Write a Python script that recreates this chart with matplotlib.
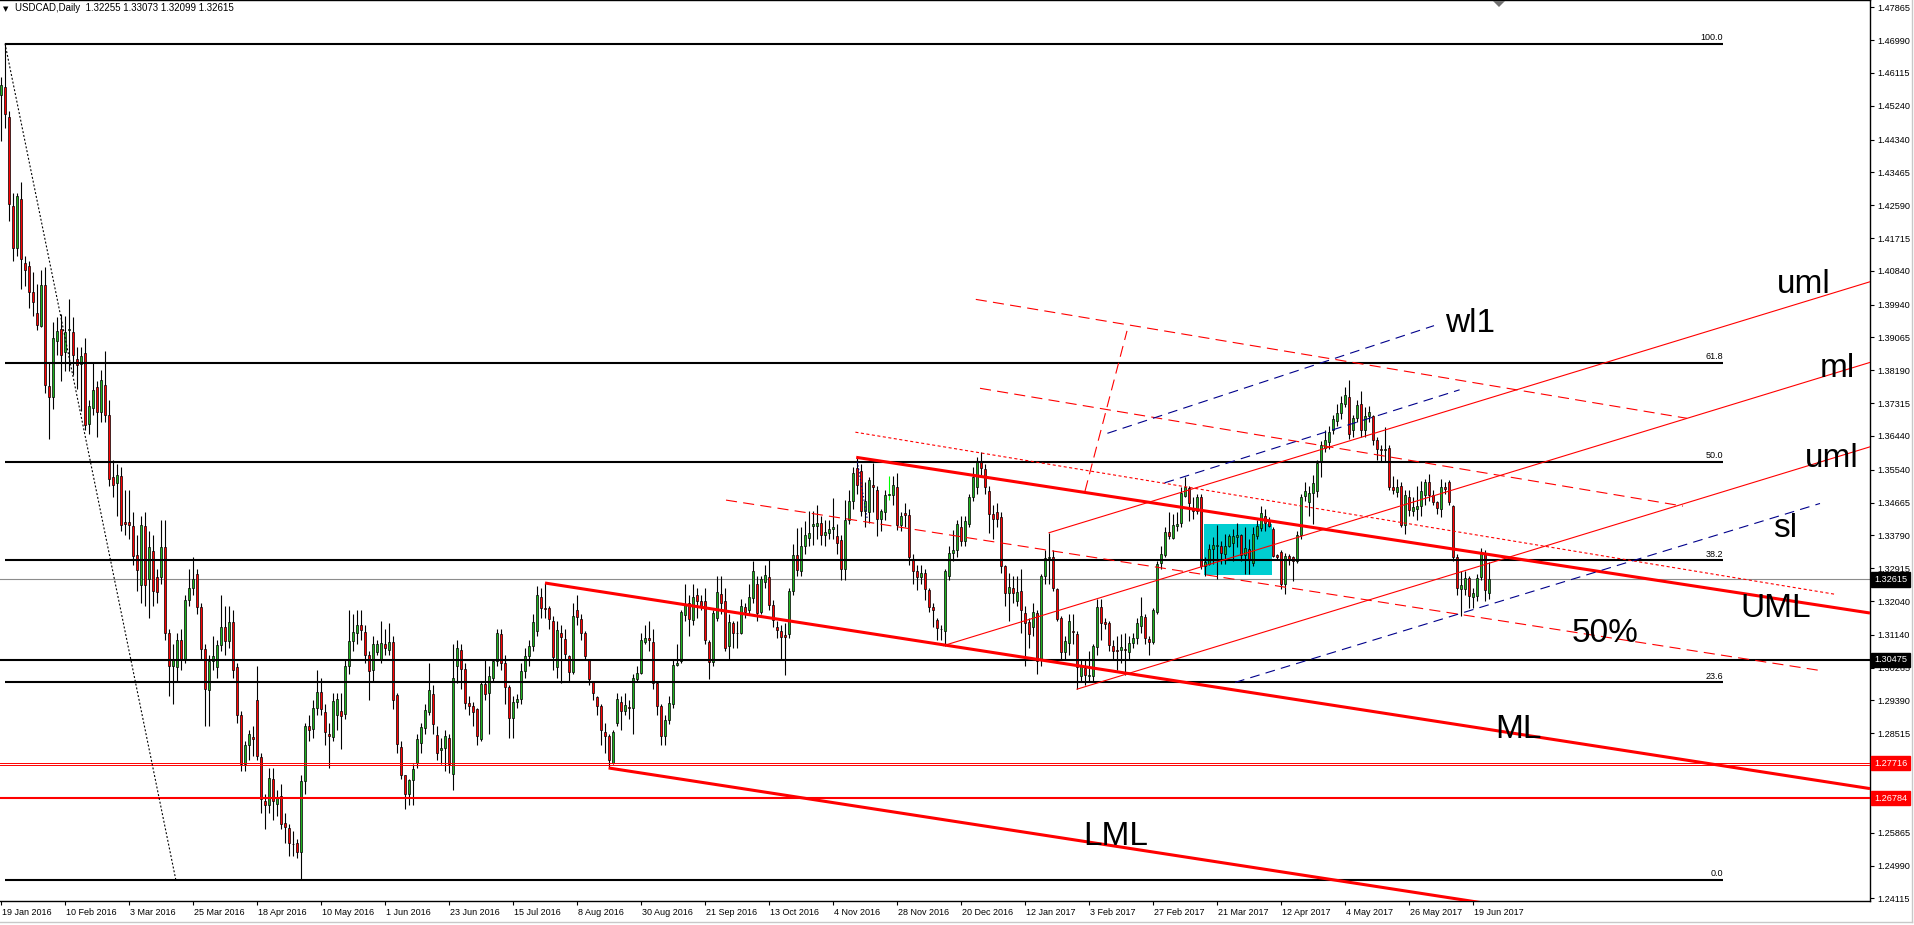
import numpy as np
import matplotlib
matplotlib.use('Agg')
import matplotlib.pyplot as plt
from matplotlib.transforms import blended_transform_factory, ScaledTranslation
from matplotlib.patches import Rectangle, Polygon

plt.rcParams['font.family'] = ['Liberation Sans', 'DejaVu Sans']
plt.rcParams['lines.scale_dashes'] = False

# daily USDCAD candles, 19 Jan 2016 .. 23 Jun 2017
opens = [
    1.4553, 1.4575, 1.4494, 1.4257, 1.4145, 1.4276, 1.4104, 1.4097, 1.4029, 1.3973,
    1.3938, 1.4046, 1.3778, 1.3749, 1.3898, 1.3930, 1.3869, 1.3927, 1.3920, 1.3850,
    1.3835, 1.3866, 1.3675, 1.3719, 1.3774, 1.3708, 1.3781, 1.3701, 1.3534, 1.3519,
    1.3538, 1.3414, 1.3414, 1.3403, 1.3327, 1.3247, 1.3403, 1.3264, 1.3337, 1.3267,
    1.3267, 1.3347, 1.3119, 1.3030, 1.3027, 1.3101, 1.3049, 1.3206, 1.3240, 1.3276,
    1.3189, 1.3075, 1.2966, 1.3043, 1.3029, 1.3087, 1.3136, 1.3097, 1.3148, 1.3027,
    1.2900, 1.2769, 1.2820, 1.2842, 1.2941, 1.2788, 1.2672, 1.2660, 1.2730, 1.2664,
    1.2685, 1.2612, 1.2598, 1.2556, 1.2558, 1.2536, 1.2725, 1.2871, 1.2864, 1.2919,
    1.2962, 1.2908, 1.2850, 1.2842, 1.2900, 1.2912, 1.2903, 1.3031, 1.3097, 1.3119,
    1.3141, 1.3122, 1.3061, 1.3020, 1.3068, 1.3049, 1.3090, 1.3074, 1.3096, 1.2953,
    1.2815, 1.2739, 1.2690, 1.2726, 1.2772, 1.2826, 1.2866, 1.2907, 1.2957, 1.2846,
    1.2806, 1.2812, 1.2840, 1.2744, 1.3032, 1.3074, 1.3024, 1.2933, 1.2924, 1.2916,
    1.2837, 1.2984, 1.2959, 1.2998, 1.3043, 1.3116, 1.3040, 1.2976, 1.2891, 1.2935,
    1.2944, 1.3018, 1.3058, 1.3083, 1.3124, 1.3214, 1.3186, 1.3185, 1.3151, 1.3029,
    1.3118, 1.3103, 1.3057, 1.3015, 1.3180, 1.3156, 1.3118, 1.3048, 1.2989, 1.2949,
    1.2924, 1.2855, 1.2844, 1.2772, 1.2880, 1.2935, 1.2911, 1.2922, 1.2919, 1.2995,
    1.3013, 1.3094, 1.3106, 1.3096, 1.2985, 1.2925, 1.2844, 1.2886, 1.2930, 1.3033,
    1.3044, 1.3167, 1.3198, 1.3154, 1.3221, 1.3205, 1.3203, 1.3094, 1.3042, 1.3160,
    1.3222, 1.3203, 1.3083, 1.3146, 1.3119, 1.3120, 1.3188, 1.3180, 1.3212, 1.3250,
    1.3176, 1.3256, 1.3268, 1.3194, 1.3136, 1.3125, 1.3114, 1.3117, 1.3231, 1.3327,
    1.3285, 1.3351, 1.3371, 1.3404, 1.3404, 1.3412, 1.3381, 1.3385, 1.3396, 1.3376,
    1.3367, 1.3289, 1.3420, 1.3471, 1.3558, 1.3551, 1.3445, 1.3442, 1.3513, 1.3500,
    1.3422, 1.3441, 1.3486, 1.3487, 1.3509, 1.3407, 1.3438, 1.3433, 1.3315, 1.3284,
    1.3269, 1.3278, 1.3234, 1.3187, 1.3154, 1.3130, 1.3123, 1.3272, 1.3331, 1.3340,
    1.3402, 1.3365, 1.3409, 1.3481, 1.3507, 1.3578, 1.3555, 1.3498, 1.3435, 1.3440,
    1.3427, 1.3298, 1.3225, 1.3238, 1.3205, 1.3231, 1.3173, 1.3147, 1.3136, 1.3173,
    1.3046, 1.3271, 1.3318, 1.3320, 1.3235, 1.3158, 1.3067, 1.3092, 1.3124, 1.3117,
    1.3005, 1.3025, 1.3004, 1.3005, 1.3081, 1.3188, 1.3149, 1.3145, 1.3085, 1.3073,
    1.3074, 1.3075, 1.3067, 1.3092, 1.3105, 1.3138, 1.3161, 1.3103, 1.3096, 1.3176,
    1.3305, 1.3327, 1.3389, 1.3373, 1.3403, 1.3411, 1.3485, 1.3505, 1.3452, 1.3443,
    1.3482, 1.3298, 1.3302, 1.3342, 1.3350, 1.3351, 1.3329, 1.3351, 1.3358, 1.3375,
    1.3379, 1.3327, 1.3342, 1.3305, 1.3378, 1.3398, 1.3431, 1.3416, 1.3396, 1.3326,
    1.3334, 1.3249, 1.3324, 1.3320, 1.3311, 1.3380, 1.3483, 1.3467, 1.3492, 1.3496,
    1.3575, 1.3612, 1.3627, 1.3661, 1.3684, 1.3706, 1.3730, 1.3749, 1.3659, 1.3692,
    1.3730, 1.3659, 1.3696, 1.3696, 1.3632, 1.3609, 1.3606, 1.3611, 1.3509, 1.3494,
    1.3511, 1.3407, 1.3482, 1.3445, 1.3449, 1.3456, 1.3486, 1.3521, 1.3487, 1.3469,
    1.3450, 1.3509, 1.3521, 1.3456, 1.3320, 1.3237, 1.3236, 1.3266, 1.3214, 1.3218,
    1.3269, 1.3331, 1.32255,
]
highs = [
    1.4600, 1.4690, 1.4510, 1.4291, 1.4291, 1.4320, 1.4124, 1.4110, 1.4080, 1.4050,
    1.4087, 1.4095, 1.3840, 1.3949, 1.3960, 1.3970, 1.3965, 1.4010, 1.3960, 1.3880,
    1.3880, 1.3905, 1.3740, 1.3842, 1.3790, 1.3820, 1.3870, 1.3740, 1.3580, 1.3570,
    1.3560, 1.3500, 1.3500, 1.3440, 1.3380, 1.3430, 1.3440, 1.3390, 1.3380, 1.3290,
    1.3420, 1.3420, 1.3130, 1.3090, 1.3120, 1.3130, 1.3220, 1.3290, 1.3320, 1.3290,
    1.3200, 1.3090, 1.3060, 1.3110, 1.3100, 1.3220, 1.3190, 1.3190, 1.3180, 1.3040,
    1.2910, 1.2830, 1.2860, 1.2870, 1.3030, 1.2800, 1.2690, 1.2760, 1.2760, 1.2700,
    1.2715, 1.2640, 1.2610, 1.2590, 1.2570, 1.2740, 1.2880, 1.2900, 1.2940, 1.3020,
    1.3000, 1.2930, 1.2880, 1.2960, 1.2960, 1.2960, 1.3050, 1.3180, 1.3170, 1.3180,
    1.3180, 1.3140, 1.3070, 1.3110, 1.3100, 1.3150, 1.3130, 1.3145, 1.3110, 1.2960,
    1.2830, 1.2740, 1.2730, 1.2770, 1.2850, 1.2880, 1.2930, 1.3040, 1.2980, 1.2870,
    1.2840, 1.2860, 1.2850, 1.3090, 1.3100, 1.3090, 1.3040, 1.2950, 1.2935, 1.2920,
    1.2990, 1.3050, 1.3030, 1.3050, 1.3130, 1.3130, 1.3060, 1.2980, 1.2950, 1.2955,
    1.3040, 1.3080, 1.3100, 1.3170, 1.3245, 1.3240, 1.3252, 1.3190, 1.3165, 1.3150,
    1.3140, 1.3130, 1.3060, 1.3200, 1.3220, 1.3170, 1.3125, 1.3050, 1.2990, 1.2950,
    1.2930, 1.2880, 1.2850, 1.2860, 1.2960, 1.2950, 1.2960, 1.2940, 1.3010, 1.3030,
    1.3120, 1.3140, 1.3150, 1.3130, 1.2990, 1.2930, 1.2900, 1.2950, 1.3050, 1.3090,
    1.3180, 1.3250, 1.3220, 1.3250, 1.3240, 1.3220, 1.3240, 1.3100, 1.3180, 1.3270,
    1.3270, 1.3240, 1.3170, 1.3150, 1.3150, 1.3210, 1.3200, 1.3250, 1.3310, 1.3270,
    1.3270, 1.3300, 1.3312, 1.3207, 1.3150, 1.3140, 1.3145, 1.3240, 1.3355, 1.3398,
    1.3400, 1.3416, 1.3443, 1.3443, 1.3460, 1.3430, 1.3420, 1.3420, 1.3478, 1.3410,
    1.3380, 1.3473, 1.3500, 1.3560, 1.3587, 1.3570, 1.3520, 1.3535, 1.3571, 1.3510,
    1.3450, 1.3500, 1.3536, 1.3536, 1.3545, 1.3440, 1.3464, 1.3450, 1.3330, 1.3300,
    1.3300, 1.3290, 1.3240, 1.3200, 1.3160, 1.3140, 1.3290, 1.3350, 1.3394, 1.3420,
    1.3430, 1.3430, 1.3490, 1.3560, 1.3589, 1.3600, 1.3570, 1.3510, 1.3460, 1.3464,
    1.3440, 1.3300, 1.3280, 1.3270, 1.3270, 1.3290, 1.3190, 1.3160, 1.3200, 1.3180,
    1.3275, 1.3340, 1.3386, 1.3340, 1.3240, 1.3165, 1.3110, 1.3170, 1.3170, 1.3125,
    1.3050, 1.3050, 1.3070, 1.3090, 1.3210, 1.3210, 1.3160, 1.3150, 1.3100, 1.3110,
    1.3115, 1.3120, 1.3110, 1.3120, 1.3160, 1.3215, 1.3170, 1.3110, 1.3185, 1.3310,
    1.3350, 1.3400, 1.3440, 1.3436, 1.3440, 1.3507, 1.3534, 1.3510, 1.3480, 1.3490,
    1.3490, 1.3320, 1.3356, 1.3374, 1.3407, 1.3365, 1.3382, 1.3382, 1.3396, 1.3411,
    1.3383, 1.3400, 1.3369, 1.3400, 1.3420, 1.3457, 1.3449, 1.3427, 1.3400, 1.3330,
    1.3340, 1.3333, 1.3330, 1.3325, 1.3390, 1.3490, 1.3520, 1.3510, 1.3540, 1.3580,
    1.3630, 1.3660, 1.3670, 1.3700, 1.3730, 1.3750, 1.3774, 1.3792, 1.3700, 1.3740,
    1.3765, 1.3720, 1.3725, 1.3700, 1.3640, 1.3620, 1.3667, 1.3620, 1.3537, 1.3530,
    1.3520, 1.3500, 1.3500, 1.3480, 1.3510, 1.3525, 1.3530, 1.3543, 1.3500, 1.3470,
    1.3530, 1.3520, 1.3527, 1.3460, 1.3330, 1.3284, 1.3284, 1.3270, 1.3240, 1.3275,
    1.3346, 1.3340, 1.33073,
]
lows = [
    1.4429, 1.4465, 1.4218, 1.4109, 1.4124, 1.4036, 1.4044, 1.3985, 1.3963, 1.3927,
    1.3934, 1.3759, 1.3636, 1.3716, 1.3860, 1.3790, 1.3818, 1.3818, 1.3807, 1.3770,
    1.3710, 1.3660, 1.3650, 1.3700, 1.3640, 1.3680, 1.3680, 1.3510, 1.3480, 1.3430,
    1.3390, 1.3380, 1.3370, 1.3300, 1.3230, 1.3200, 1.3190, 1.3160, 1.3190, 1.3200,
    1.3250, 1.3100, 1.2950, 1.2930, 1.2990, 1.3020, 1.3040, 1.3190, 1.3220, 1.3170,
    1.3050, 1.2870, 1.2870, 1.3020, 1.3000, 1.3070, 1.3060, 1.3080, 1.3000, 1.2880,
    1.2750, 1.2750, 1.2780, 1.2790, 1.2780, 1.2640, 1.2595, 1.2640, 1.2620, 1.2630,
    1.2595, 1.2560, 1.2525, 1.2525, 1.2520, 1.2461, 1.2690, 1.2830, 1.2840, 1.2900,
    1.2900, 1.2820, 1.2760, 1.2830, 1.2860, 1.2810, 1.2890, 1.3010, 1.3070, 1.3090,
    1.3100, 1.3040, 1.2940, 1.2990, 1.3060, 1.3040, 1.3060, 1.3060, 1.2915, 1.2800,
    1.2730, 1.2650, 1.2660, 1.2660, 1.2760, 1.2800, 1.2850, 1.2900, 1.2850, 1.2780,
    1.2770, 1.2750, 1.2745, 1.2700, 1.2985, 1.2970, 1.2915, 1.2900, 1.2870, 1.2820,
    1.2830, 1.2940, 1.2850, 1.2990, 1.3030, 1.3020, 1.2930, 1.2840, 1.2840, 1.2920,
    1.2930, 1.3000, 1.3030, 1.3070, 1.3110, 1.3160, 1.3158, 1.3130, 1.3020, 1.3000,
    1.2985, 1.3050, 1.2990, 1.3010, 1.3140, 1.3100, 1.3050, 1.2980, 1.2940, 1.2900,
    1.2820, 1.2800, 1.2760, 1.2770, 1.2870, 1.2860, 1.2900, 1.2890, 1.2850, 1.2990,
    1.3010, 1.3090, 1.3070, 1.2970, 1.2900, 1.2820, 1.2820, 1.2875, 1.2920, 1.3030,
    1.3040, 1.3150, 1.3110, 1.3140, 1.3160, 1.3180, 1.3090, 1.2995, 1.3030, 1.3150,
    1.3170, 1.3070, 1.3050, 1.3080, 1.3080, 1.3115, 1.3160, 1.3170, 1.3200, 1.3150,
    1.3170, 1.3240, 1.3180, 1.3136, 1.3105, 1.3047, 1.3007, 1.3105, 1.3220, 1.3270,
    1.3270, 1.3330, 1.3350, 1.3353, 1.3370, 1.3353, 1.3350, 1.3370, 1.3370, 1.3330,
    1.3260, 1.3260, 1.3410, 1.3450, 1.3490, 1.3430, 1.3400, 1.3412, 1.3440, 1.3376,
    1.3390, 1.3420, 1.3474, 1.3460, 1.3393, 1.3390, 1.3400, 1.3300, 1.3250, 1.3233,
    1.3250, 1.3207, 1.3176, 1.3136, 1.3100, 1.3100, 1.3083, 1.3260, 1.3310, 1.3320,
    1.3350, 1.3350, 1.3400, 1.3470, 1.3490, 1.3540, 1.3490, 1.3385, 1.3370, 1.3400,
    1.3278, 1.3190, 1.3150, 1.3200, 1.3190, 1.3120, 1.3030, 1.3080, 1.3110, 1.3010,
    1.3030, 1.3250, 1.3250, 1.3230, 1.3150, 1.3047, 1.3047, 1.3060, 1.3090, 1.2969,
    1.2990, 1.2980, 1.2990, 1.2990, 1.3060, 1.3100, 1.3130, 1.3070, 1.3050, 1.3020,
    1.3040, 1.3008, 1.3050, 1.3080, 1.3090, 1.3120, 1.3090, 1.3060, 1.3090, 1.3170,
    1.3290, 1.3320, 1.3370, 1.3369, 1.3390, 1.3400, 1.3480, 1.3418, 1.3422, 1.3436,
    1.3289, 1.3271, 1.3300, 1.3302, 1.3262, 1.3302, 1.3302, 1.3347, 1.3311, 1.3347,
    1.3311, 1.3275, 1.3275, 1.3298, 1.3370, 1.3391, 1.3391, 1.3400, 1.3320, 1.3315,
    1.3236, 1.3222, 1.3300, 1.3258, 1.3305, 1.3370, 1.3470, 1.3431, 1.3408, 1.3480,
    1.3534, 1.3600, 1.3610, 1.3650, 1.3670, 1.3690, 1.3720, 1.3636, 1.3640, 1.3680,
    1.3640, 1.3640, 1.3680, 1.3620, 1.3580, 1.3578, 1.3574, 1.3500, 1.3489, 1.3480,
    1.3400, 1.3383, 1.3430, 1.3430, 1.3420, 1.3431, 1.3460, 1.3470, 1.3460, 1.3436,
    1.3427, 1.3490, 1.3460, 1.3310, 1.3220, 1.3164, 1.3220, 1.3186, 1.3186, 1.3204,
    1.3260, 1.3204, 1.32099,
]
closes = [
    1.4579, 1.4502, 1.4262, 1.4145, 1.4283, 1.4116, 1.4087, 1.4029, 1.4002, 1.3941,
    1.4046, 1.3781, 1.3749, 1.3905, 1.3924, 1.3861, 1.3922, 1.3930, 1.3861, 1.3832,
    1.3858, 1.3672, 1.3723, 1.3767, 1.3708, 1.3794, 1.3701, 1.3529, 1.3512, 1.3541,
    1.3406, 1.3410, 1.3406, 1.3323, 1.3286, 1.3407, 1.3247, 1.3349, 1.3231, 1.3228,
    1.3347, 1.3119, 1.3032, 1.3046, 1.3101, 1.3049, 1.3206, 1.3240, 1.3264, 1.3189,
    1.3075, 1.2970, 1.3043, 1.3058, 1.3087, 1.3136, 1.3097, 1.3148, 1.3020, 1.2900,
    1.2769, 1.2820, 1.2849, 1.2837, 1.2791, 1.2675, 1.2660, 1.2733, 1.2672, 1.2682,
    1.2609, 1.2602, 1.2558, 1.2555, 1.2536, 1.2723, 1.2871, 1.2860, 1.2919, 1.2962,
    1.2915, 1.2854, 1.2845, 1.2937, 1.2944, 1.2897, 1.3031, 1.3097, 1.3122, 1.3141,
    1.3126, 1.3061, 1.3017, 1.3090, 1.3090, 1.3093, 1.3078, 1.3096, 1.2941, 1.2822,
    1.2739, 1.2690, 1.2726, 1.2757, 1.2837, 1.2868, 1.2913, 1.2968, 1.2877, 1.2799,
    1.2813, 1.2844, 1.2770, 1.2998, 1.3078, 1.3024, 1.2933, 1.2925, 1.2909, 1.2843,
    1.2984, 1.2956, 1.3004, 1.3043, 1.3118, 1.3040, 1.2974, 1.2891, 1.2935, 1.2944,
    1.3018, 1.3058, 1.3085, 1.3147, 1.3221, 1.3185, 1.3184, 1.3155, 1.3056, 1.3127,
    1.3109, 1.3063, 1.3014, 1.3164, 1.3161, 1.3118, 1.3058, 1.2995, 1.2960, 1.2924,
    1.2861, 1.2843, 1.2779, 1.2855, 1.2942, 1.2911, 1.2926, 1.2919, 1.2999, 1.3011,
    1.3100, 1.3105, 1.3100, 1.2985, 1.2925, 1.2844, 1.2886, 1.2933, 1.3033, 1.3040,
    1.3174, 1.3196, 1.3155, 1.3214, 1.3205, 1.3191, 1.3099, 1.3042, 1.3172, 1.3228,
    1.3198, 1.3078, 1.3147, 1.3118, 1.3120, 1.3190, 1.3176, 1.3214, 1.3285, 1.3173,
    1.3262, 1.3274, 1.3194, 1.3154, 1.3127, 1.3109, 1.3109, 1.3231, 1.3327, 1.3287,
    1.3351, 1.3380, 1.3385, 1.3410, 1.3411, 1.3381, 1.3388, 1.3396, 1.3402, 1.3358,
    1.3289, 1.3420, 1.3471, 1.3546, 1.3513, 1.3445, 1.3470, 1.3527, 1.3509, 1.3422,
    1.3444, 1.3486, 1.3488, 1.3513, 1.3407, 1.3431, 1.3433, 1.3321, 1.3284, 1.3269,
    1.3278, 1.3235, 1.3189, 1.3180, 1.3132, 1.3129, 1.3284, 1.3331, 1.3340, 1.3409,
    1.3365, 1.3416, 1.3481, 1.3534, 1.3574, 1.3558, 1.3507, 1.3435, 1.3422, 1.3422,
    1.3298, 1.3225, 1.3241, 1.3225, 1.3229, 1.3180, 1.3145, 1.3116, 1.3174, 1.3043,
    1.3271, 1.3319, 1.3320, 1.3238, 1.3156, 1.3069, 1.3098, 1.3151, 1.3121, 1.3028,
    1.3030, 1.3008, 1.3008, 1.3085, 1.3188, 1.3145, 1.3142, 1.3087, 1.3072, 1.3071,
    1.3081, 1.3073, 1.3092, 1.3105, 1.3145, 1.3163, 1.3105, 1.3096, 1.3180, 1.3302,
    1.3329, 1.3389, 1.3376, 1.3407, 1.3409, 1.3491, 1.3509, 1.3464, 1.3443, 1.3482,
    1.3298, 1.3309, 1.3342, 1.3354, 1.3352, 1.3331, 1.3351, 1.3376, 1.3376, 1.3381,
    1.3327, 1.3344, 1.3314, 1.3382, 1.3403, 1.3438, 1.3412, 1.3403, 1.3323, 1.3320,
    1.3249, 1.3324, 1.3316, 1.3311, 1.3380, 1.3482, 1.3498, 1.3492, 1.3518, 1.3572,
    1.3621, 1.3634, 1.3654, 1.3688, 1.3706, 1.3732, 1.3752, 1.3648, 1.3692, 1.3726,
    1.3659, 1.3696, 1.3709, 1.3632, 1.3610, 1.3606, 1.3608, 1.3507, 1.3500, 1.3509,
    1.3407, 1.3487, 1.3447, 1.3455, 1.3458, 1.3498, 1.3521, 1.3486, 1.3469, 1.3452,
    1.3509, 1.3503, 1.3467, 1.3320, 1.3240, 1.3246, 1.3265, 1.3218, 1.3225, 1.3265,
    1.3331, 1.3233, 1.32615,
]

date_labels = ['19 Jan 2016', '10 Feb 2016', '3 Mar 2016', '25 Mar 2016', '18 Apr 2016',
               '10 May 2016', '1 Jun 2016', '23 Jun 2016', '15 Jul 2016', '8 Aug 2016',
               '30 Aug 2016', '21 Sep 2016', '13 Oct 2016', '4 Nov 2016', '28 Nov 2016',
               '20 Dec 2016', '12 Jan 2017', '3 Feb 2017', '27 Feb 2017', '21 Mar 2017',
               '12 Apr 2017', '4 May 2017', '26 May 2017', '19 Jun 2017']
date_bars = [0, 16, 32, 48, 64, 80, 96, 112, 128, 144, 160, 176, 192, 208, 224, 240,
             256, 272, 288, 304, 320, 336, 352, 368]

price_ticks = [1.47865, 1.46990, 1.46115, 1.45240, 1.44340, 1.43465, 1.42590, 1.41715,
               1.40840, 1.39940, 1.39065, 1.38190, 1.37315, 1.36440, 1.35540, 1.34665,
               1.33790, 1.32915, 1.32040, 1.31140, 1.30265, 1.29390, 1.28515, 1.25865,
               1.24990, 1.24115]

# fibonacci retracement (20 Jan 2016 high -> 3 May 2016 low)
fib_levels = [1.46900, 1.38385, 1.35755, 1.33125, 1.29870, 1.24610]
fib_names = ['100.0', '61.8', '50.0', '38.2', '23.6', '0.0']
fib_span = [1, 430.5]
fib_diag = [(1, 1.4690), (43.7, 1.2461)]

# horizontal levels
black_level = 1.30475
red_levels = [1.27716, 1.27663, 1.26784]
last_price = 1.32615
marked_prices = [1.32615, 1.30475, 1.27716, 1.26784]
marked_colors = ['black', 'black', 'red', 'red']

# drawn objects: (bar, price) anchors
thick_red = [[(213.8, 1.3587), (467.25, 1.3172)],   # UML
             [(136.0, 1.3252), (467.25, 1.2704)],   # ML
             [(151.9, 1.2759), (467.25, 1.2240)]]   # LML
thin_red = [[(262.0, 1.3386), (467.25, 1.4055)],
            [(235.6, 1.3085), (467.25, 1.3840)],
            [(269.0, 1.2969), (467.25, 1.3615)]]
dashed_red = [[(243.7, 1.4008), (421.5, 1.3691)],
              [(244.75, 1.3771), (420.5, 1.3457)],
              [(181.25, 1.3473), (455.25, 1.3018)],
              [(271.0, 1.3497), (281.5, 1.3924)]]
dotted_red = [[(213.6, 1.3654), (458.5, 1.3222)]]
dashed_blue = [[(276.6, 1.3651), (358.25, 1.3938)],
               [(290.9, 1.3519), (364.65, 1.3767)],
               [(308.5, 1.2987), (454.75, 1.3464)]]
dotted_blue = [[(214.1, 1.3575), (216.6, 1.3420)]]
box_bars = [300.75, 317.7]
box_prices = [1.32733, 1.34093]

labels = [('uml', 444.0, 1.40250), ('ml', 454.75, 1.38004), ('uml', 451.0, 1.35612),
          ('sl', 443.0, 1.33746), ('UML', 434.75, 1.31614), ('50%', 392.75, 1.30947),
          ('ML', 373.5, 1.28389), ('LML', 270.5, 1.25536), ('wl1', 361.0, 1.39219)]

W, H = 1915, 925
fig = plt.figure(figsize=(W / 100, H / 100), dpi=100)
ax = fig.add_axes([0, 24 / H, 1870 / W, 901 / H])
ax.set_xlim(-0.25, 467.25)
ax.set_ylim(1.24044, 1.48060)

# candles
o = np.array(opens)
hi = np.array(highs)
lo = np.array(lows)
c = np.array(closes)
n = min(len(o), len(hi), len(lo), len(c))
o, hi, lo, c = o[:n], hi[:n], lo[:n], c[:n]
idx = np.arange(n)
up = c >= o
wick_cols = ['black'] * n
if n > 222:
    wick_cols[222] = '#00ff00'
ax.vlines(idx, lo, hi, colors=wick_cols, lw=0.8, zorder=2)
body_lo = np.minimum(o, c)
body_h = np.maximum(np.abs(c - o), 0.00006)
ax.bar(idx, body_h, bottom=body_lo, width=0.7,
       color=np.where(up, '#1fb21f', '#ff0000'), edgecolor='black', linewidth=0.5, zorder=2.5)

# cyan box (behind candles)
ax.add_patch(Rectangle((box_bars[0], box_prices[0]), box_bars[1] - box_bars[0],
                       box_prices[1] - box_prices[0], facecolor='#00ced1', edgecolor='none', zorder=1))

# horizontal lines
ax.axhline(last_price, color='#8c8c8c', lw=0.8, zorder=1.5)
ax.axhline(black_level, color='black', lw=1.5, zorder=3)
ax.axhline(red_levels[0], color='red', lw=0.7, zorder=3)
ax.axhline(red_levels[1], color='red', lw=0.7, zorder=3)
ax.axhline(red_levels[2], color='red', lw=1.5, zorder=3)

# fibonacci
for lvl, name in zip(fib_levels, fib_names):
    ax.plot(fib_span, [lvl, lvl], color='black', lw=1.5, zorder=3, solid_capstyle='butt')
    ax.text(fib_span[1], lvl + 0.0004, name, ha='right', va='bottom', fontsize=6.5, zorder=4)
ax.plot([fib_diag[0][0], fib_diag[1][0]], [fib_diag[0][1], fib_diag[1][1]],
        color='black', lw=0.8, dashes=(1.4, 1.4), zorder=3)


def draw(segs, **kw):
    for (x0, p0), (x1, p1) in segs:
        ax.plot([x0, x1], [p0, p1], zorder=3, **kw)


draw(thick_red, color='red', lw=2.2, solid_capstyle='butt')
draw(thin_red, color='red', lw=0.8)
draw(dashed_red, color='red', lw=0.8, dashes=(8, 4.5))
draw(dotted_red, color='red', lw=0.8, dashes=(2.2, 1.8))
draw(dashed_blue, color='#00008b', lw=0.8, dashes=(7, 4.5))
draw(dotted_blue, color='#00008b', lw=0.8, dashes=(1, 1.5))

for txt, xb, yp in labels:
    ax.text(xb, yp, txt, ha='left', va='baseline', fontsize=24, color='black', zorder=5)

# axes styling
for side in ['left']:
    ax.spines[side].set_visible(False)
for side in ['top', 'right', 'bottom']:
    ax.spines[side].set_linewidth(1.0)
ax.yaxis.tick_right()
ax.set_yticks(price_ticks)
ax.set_yticklabels([f'{t:.5f}' for t in price_ticks])
ax.tick_params(axis='y', length=3, width=0.8, pad=2, labelsize=6.6, direction='out')
ax.set_xticks(date_bars)
ax.set_xticklabels(date_labels)
ax.tick_params(axis='x', length=3, width=0.8, pad=2, labelsize=6.5, direction='out')
shift = ScaledTranslation(1 / 100, 0, fig.dpi_scale_trans)
for lab in ax.get_xticklabels():
    lab.set_horizontalalignment('left')
    lab.set_transform(lab.get_transform() + shift)

# highlighted price labels on the right axis
trans = blended_transform_factory(ax.transAxes, ax.transData) + ScaledTranslation(4 / 100, 0, fig.dpi_scale_trans)
for p, col in zip(marked_prices, marked_colors):
    ax.text(1.0, p, f'{p:.5f}', transform=trans, ha='left', va='center', fontsize=6.6,
            color='white', zorder=6, clip_on=False,
            bbox=dict(boxstyle='square,pad=0.28', fc=col, ec=col))

# header
fig.text(3 / W, 1 - 9 / H, '\u25bc', fontsize=5, family='DejaVu Sans', va='center', ha='left')
fig.text(15 / W, 1 - 8 / H, 'USDCAD,Daily  1.32255 1.33073 1.32099 1.32615',
         fontsize=7, va='center', ha='left')
fig.add_artist(Polygon([[1493 / W, 1 - 1 / H], [1505 / W, 1 - 1 / H], [1499 / W, 1 - 7 / H]],
                       closed=True, transform=fig.transFigure, facecolor='#707070', edgecolor='none'))
fig.add_artist(plt.Line2D([0, 1912 / W], [1 - 922 / H, 1 - 922 / H], transform=fig.transFigure,
                          color='#c8c8c8', lw=1))
fig.add_artist(plt.Line2D([1912 / W, 1912 / W], [1 - 922 / H, 1], transform=fig.transFigure,
                          color='#c8c8c8', lw=1))

fig.savefig('out.png', dpi=100)
